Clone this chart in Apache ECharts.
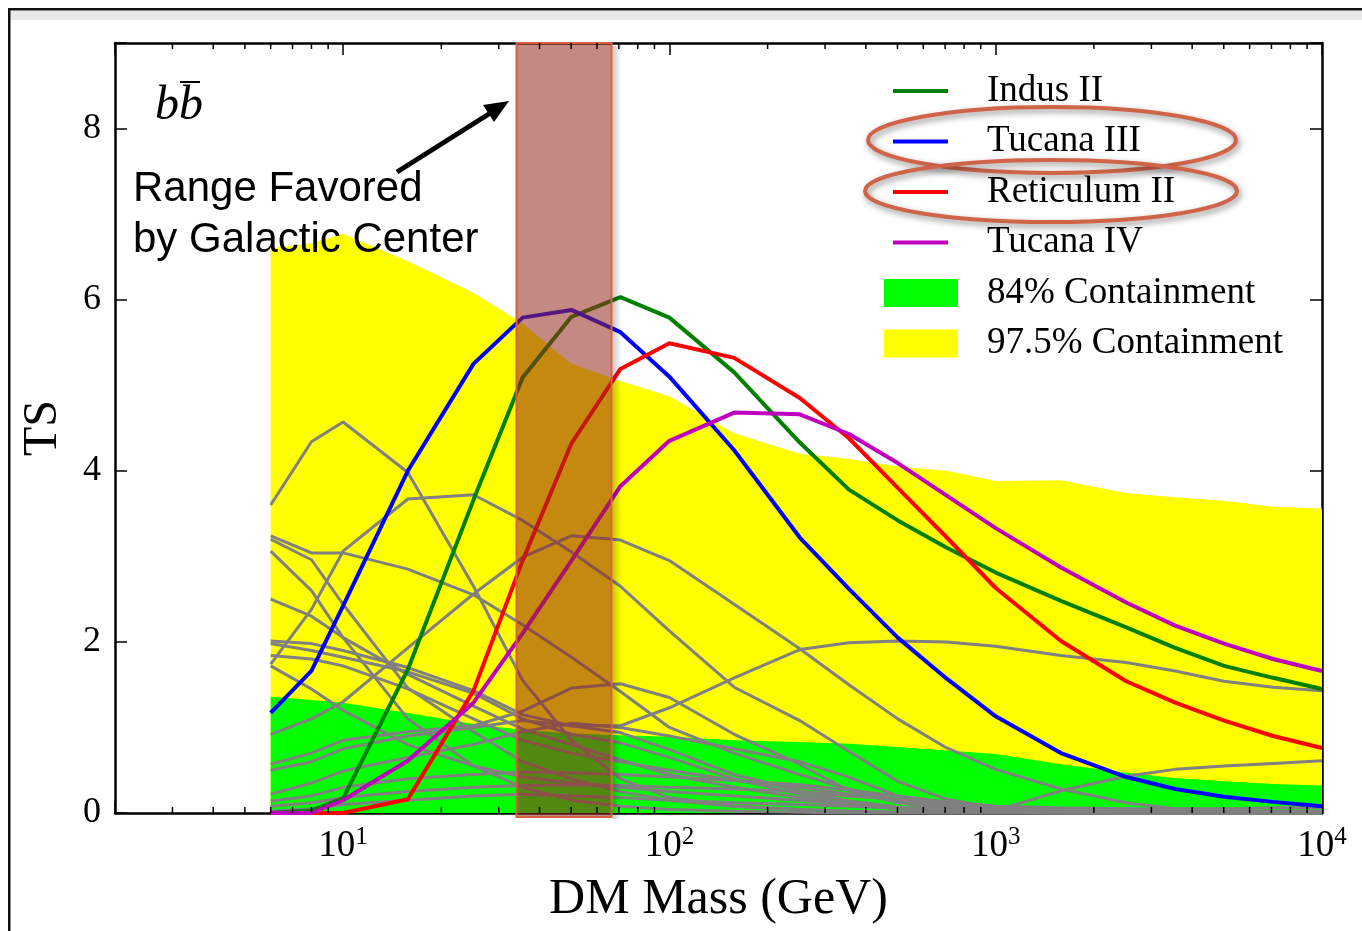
<!DOCTYPE html>
<html><head><meta charset="utf-8">
<script src="https://cdn.jsdelivr.net/npm/echarts@6/dist/echarts.min.js"></script>
<style>html,body{margin:0;padding:0;background:#fff}#c{width:1362px;height:931px}</style>
</head><body><div id="c"></div>
<script>
// DM masses (GeV)
const masses = [6, 8, 10, 15.8, 25.1, 35.5, 50.1, 70.8, 100, 158, 251, 355, 501, 708, 1000, 1585, 2512, 3548, 5012, 7079, 10000];
// containment bands (upper edges; lower edge 0)
const band975 = [6.60, 6.66, 6.77, 6.45, 6.08, 5.72, 5.25, 5.05, 4.87, 4.44, 4.20, 4.14, 4.05, 4.00, 3.88, 3.89, 3.74, 3.69, 3.65, 3.58, 3.56];
const band84  = [1.36, 1.32, 1.29, 1.17, 1.04, 0.97, 0.93, 0.91, 0.89, 0.85, 0.83, 0.81, 0.77, 0.73, 0.69, 0.57, 0.47, 0.41, 0.37, 0.34, 0.32];
// dwarf TS curves
const indusII     = [0.00, 0.03, 0.17, 1.68, 3.66, 5.09, 5.80, 6.03, 5.79, 5.15, 4.33, 3.78, 3.42, 3.10, 2.81, 2.48, 2.17, 1.93, 1.72, 1.58, 1.45];
const tucanaIII   = [1.17, 1.66, 2.42, 4.00, 5.25, 5.79, 5.88, 5.62, 5.10, 4.24, 3.22, 2.62, 2.05, 1.57, 1.13, 0.70, 0.42, 0.28, 0.19, 0.13, 0.08];
const reticulumII = [0.00, 0.00, 0.00, 0.16, 1.43, 2.95, 4.32, 5.19, 5.49, 5.32, 4.85, 4.38, 3.80, 3.22, 2.63, 2.01, 1.54, 1.29, 1.08, 0.90, 0.76];
const tucanaIV    = [0.00, 0.00, 0.15, 0.61, 1.29, 2.10, 2.95, 3.82, 4.35, 4.68, 4.66, 4.43, 4.09, 3.71, 3.33, 2.87, 2.46, 2.19, 1.98, 1.80, 1.66];
// other dwarfs (grey)
const grey01 = [3.60, 4.34, 4.57, 3.98, 2.65, 1.55, 0.85, 0.40, 0.18, 0.08, 0.04, 0.02, 0.01, 0, 0, 0, 0, 0, 0, 0, 0];
const grey02 = [1.74, 2.38, 3.06, 3.67, 3.72, 3.42, 3.05, 2.65, 2.13, 1.47, 1.08, 0.72, 0.37, 0.16, 0.06, 0.02, 0, 0, 0, 0, 0];
const grey03 = [0.92, 1.10, 1.30, 1.93, 2.56, 2.99, 3.24, 3.19, 2.95, 2.44, 1.92, 1.50, 1.10, 0.76, 0.51, 0.28, 0.12, 0.05, 0.02, 0.01, 0];
const grey04 = [0.50, 0.60, 0.75, 0.90, 1.00, 1.08, 1.02, 1.02, 1.23, 1.58, 1.91, 1.99, 2.01, 2.00, 1.95, 1.84, 1.76, 1.66, 1.54, 1.47, 1.43];
const grey05 = [0.22, 0.35, 0.49, 0.65, 0.80, 0.95, 1.05, 1.00, 0.90, 0.75, 0.60, 0.42, 0.20, 0.08, 0.03, 0.26, 0.43, 0.51, 0.55, 0.58, 0.61];
const grey06 = [3.24, 3.04, 3.04, 2.85, 2.55, 2.20, 1.82, 1.42, 1.00, 0.70, 0.45, 0.28, 0.15, 0.08, 0.03, 0.01, 0, 0, 0, 0, 0];
const grey07 = [3.20, 2.96, 2.44, 1.46, 0.95, 0.60, 0.40, 0.25, 0.15, 0.08, 0.04, 0.02, 0.01, 0, 0, 0, 0, 0, 0, 0, 0];
const grey08 = [3.06, 2.60, 2.05, 1.10, 0.55, 0.30, 0.15, 0.08, 0.04, 0.02, 0.01, 0, 0, 0, 0, 0, 0, 0, 0, 0, 0];
const grey09 = [2.50, 2.30, 2.05, 1.62, 1.25, 0.98, 0.80, 0.62, 0.45, 0.30, 0.18, 0.10, 0.05, 0.02, 0.01, 0, 0, 0, 0, 0, 0];
const grey10 = [2.01, 1.98, 1.90, 1.70, 1.43, 1.15, 1.02, 0.94, 0.74, 0.45, 0.26, 0.14, 0.07, 0.03, 0.01, 0, 0, 0, 0, 0, 0];
const grey11 = [1.98, 1.90, 1.82, 1.65, 1.40, 1.10, 0.92, 0.82, 0.65, 0.40, 0.22, 0.11, 0.05, 0.02, 0.01, 0, 0, 0, 0, 0, 0];
const grey12 = [1.84, 1.80, 1.72, 1.45, 1.10, 0.85, 0.70, 0.60, 0.50, 0.38, 0.30, 0.22, 0.15, 0.10, 0.06, 0.03, 0.01, 0, 0, 0, 0];
const grey13 = [0.57, 0.70, 0.85, 0.95, 1.02, 1.19, 1.46, 1.51, 1.35, 0.92, 0.57, 0.26, 0.12, 0.05, 0.02, 0, 0, 0, 0, 0, 0];
const grey14 = [1.72, 1.45, 1.20, 0.80, 0.55, 0.42, 0.35, 0.30, 0.25, 0.20, 0.15, 0.10, 0.06, 0.04, 0.02, 0.01, 0, 0, 0, 0, 0];
const grey15 = [0.14, 0.20, 0.30, 0.40, 0.45, 0.48, 0.47, 0.45, 0.42, 0.38, 0.33, 0.27, 0.20, 0.13, 0.08, 0.04, 0.02, 0.01, 0, 0, 0];
const grey16 = [0.08, 0.12, 0.18, 0.25, 0.30, 0.32, 0.33, 0.32, 0.30, 0.28, 0.25, 0.20, 0.16, 0.12, 0.08, 0.06, 0.05, 0.04, 0.03, 0.02, 0.02];
const grey17 = [0.02, 0.05, 0.10, 0.15, 0.20, 0.22, 0.20, 0.18, 0.15, 0.12, 0.10, 0.08, 0.06, 0.05, 0.04, 0.04, 0.04, 0.05, 0.05, 0.06, 0.06];
const greyLines = [grey01, grey02, grey03, grey04, grey05, grey06, grey07, grey08, grey09, grey10, grey11, grey12, grey13, grey14, grey15, grey16, grey17];
// mass range favored by the Galactic Center excess (GeV)
const gcRange = [34, 66.5];
// tick labels
const yTickLabels = [0, 2, 4, 6, 8];
const xTickPowers = [1, 2, 3, 4];

const SERIF = '"Liberation Serif", "DejaVu Serif", serif';
const SANS = '"Liberation Sans", Arial, sans-serif';
const pairs = arr => masses.map((m, i) => [m, arr[i]]);

const minorTickVals = [];
for (let d = 0; d < 4; d++) for (let k = 2; k <= 9; k++) {
  const v = k * Math.pow(10, d);
  if (v > 2 && v < 10000) minorTickVals.push(v);
}

const chart = echarts.init(document.getElementById('c'), null, {renderer: 'canvas'});

const series = [];
series.push({type: 'line', name: '97.5% Containment', data: pairs(band975), symbol: 'none', silent: true,
  lineStyle: {width: 0, color: '#FFFF00'}, itemStyle: {color: '#FFFF00'},
  areaStyle: {color: '#FFFF00', opacity: 1, origin: 'start'}, z: 1});
series.push({type: 'line', name: '84% Containment', data: pairs(band84), symbol: 'none', silent: true,
  lineStyle: {width: 0, color: '#00FF00'}, itemStyle: {color: '#00FF00'},
  areaStyle: {color: '#00FF00', opacity: 1, origin: 'start'}, z: 1});
greyLines.forEach((g, i) => series.push({type: 'line', name: 'other' + i, data: pairs(g), symbol: 'none', silent: true,
  lineStyle: {width: 3, color: '#808080'}, itemStyle: {color: '#808080'}, z: 2}));
[['Indus II', indusII, '#007F00'], ['Tucana III', tucanaIII, '#0000FF'],
 ['Reticulum II', reticulumII, '#FF0000'], ['Tucana IV', tucanaIV, '#BF00BF']].forEach(([n, d, c]) =>
  series.push({type: 'line', name: n, data: pairs(d), symbol: 'none', silent: true,
    lineStyle: {width: 4, color: c}, itemStyle: {color: c}, z: 3}));
// Galactic-center favored band
series.push({type: 'custom', name: 'gc', silent: true, clip: false, z: 6, data: [[gcRange[0], gcRange[1]]],
  renderItem(params, api) {
    const a = api.coord([api.value(0), 9]);
    const b = api.coord([api.value(1), 0]);
    return {type: 'group', children: [
      {type: 'rect', shape: {x: b[0] + 1, y: a[1] + 3, width: 9, height: b[1] - a[1] + 3},
        style: {fill: new echarts.graphic.LinearGradient(0, 0, 1, 0, [
          {offset: 0, color: 'rgba(0,0,0,0.22)'}, {offset: 1, color: 'rgba(0,0,0,0)'}])}},
      {type: 'rect', shape: {x: a[0], y: a[1], width: b[0] - a[0], height: b[1] - a[1] + 4},
        style: {fill: 'rgba(150,40,29,0.55)', stroke: '#D9603F', lineWidth: 2}}
    ]};
  }});
// minor log ticks (bottom & top)
series.push({type: 'custom', name: 'minor', silent: true, clip: false, z: 10, data: minorTickVals.map(v => [v, 0]),
  renderItem(params, api) {
    const v = api.value(0);
    const b = api.coord([v, 0]);
    const t = api.coord([v, 9]);
    return {type: 'group', children: [
      {type: 'line', shape: {x1: b[0], y1: b[1], x2: b[0], y2: b[1] - 6}, style: {stroke: '#000', lineWidth: 1.5}},
      {type: 'line', shape: {x1: t[0], y1: t[1], x2: t[0], y2: t[1] + 6}, style: {stroke: '#000', lineWidth: 1.5}}
    ]};
  }});

const xLabelFmt = v => {
  const p = Math.round(Math.log10(v));
  if (Math.abs(Math.log10(v) - p) > 1e-6 || xTickPowers.indexOf(p) < 0) return '';
  return '{b|10}{s|' + p + '}';
};
const axisLineStyle = {color: '#000', width: 2.5};

const option = {
  animation: false,
  backgroundColor: '#fff',
  grid: {left: 115, right: 40, top: 43, bottom: 118, containLabel: false, outerBoundsMode: 'none'},
  xAxis: [
    {type: 'log', logBase: 10, min: 2, max: 10000, position: 'bottom',
      name: 'DM Mass (GeV)', nameLocation: 'middle', nameGap: 62,
      nameTextStyle: {fontFamily: SERIF, fontSize: 50, color: '#000'},
      axisLine: {show: true, onZero: false, lineStyle: axisLineStyle},
      axisTick: {show: true, inside: true, length: 12, lineStyle: {color: '#000', width: 1.5}},
      minorTick: {show: false}, splitLine: {show: false},
      axisLabel: {show: true, margin: 12, formatter: xLabelFmt, color: '#000',
        rich: {b: {fontFamily: SERIF, fontSize: 37, color: '#000'},
               s: {fontFamily: SERIF, fontSize: 25, color: '#000', padding: [0, 0, 18, 0]}}}},
    {type: 'log', logBase: 10, min: 2, max: 10000, position: 'top',
      axisLine: {show: true, onZero: false, lineStyle: axisLineStyle},
      axisTick: {show: true, inside: true, length: 12, lineStyle: {color: '#000', width: 1.5}},
      axisLabel: {show: false}, splitLine: {show: false}}
  ],
  yAxis: [
    {type: 'value', min: 0, max: 9, interval: 2, position: 'left',
      name: 'TS', nameLocation: 'middle', nameGap: 48, nameRotate: 90,
      nameTextStyle: {fontFamily: SERIF, fontSize: 48, color: '#000'},
      axisLine: {show: true, onZero: false, lineStyle: axisLineStyle},
      axisTick: {show: true, inside: true, length: 12, lineStyle: {color: '#000', width: 1.5}},
      splitLine: {show: false},
      axisLabel: {show: true, margin: 14, color: '#000', fontFamily: SERIF, fontSize: 36,
        formatter: v => (yTickLabels.indexOf(v) >= 0 ? String(v) : '')}},
    {type: 'value', min: 0, max: 9, interval: 2, position: 'right',
      axisLine: {show: true, onZero: false, lineStyle: axisLineStyle},
      axisTick: {show: true, inside: true, length: 12, lineStyle: {color: '#000', width: 1.5}},
      splitLine: {show: false}, axisLabel: {show: false}}
  ],
  legend: [
    {orient: 'vertical', left: 893, top: 71, padding: 0, itemWidth: 55, itemHeight: 4, itemGap: 10.5,
      selectedMode: false, icon: 'rect',
      textStyle: {fontFamily: SERIF, fontSize: 37, color: '#000', lineHeight: 40, padding: [0, 0, 0, 34]},
      data: [
        {name: 'Indus II', itemStyle: {color: '#007F00'}},
        {name: 'Tucana III', itemStyle: {color: '#0000FF'}},
        {name: 'Reticulum II', itemStyle: {color: '#FF0000'}},
        {name: 'Tucana IV', itemStyle: {color: '#BF00BF'}}]},
    {orient: 'vertical', left: 884, top: 273, padding: 0, itemWidth: 74, itemHeight: 28, itemGap: 10.5,
      selectedMode: false, icon: 'rect',
      textStyle: {fontFamily: SERIF, fontSize: 37, color: '#000', lineHeight: 40, padding: [0, 0, 0, 24]},
      data: [
        {name: '84% Containment', itemStyle: {color: '#00FF00'}},
        {name: '97.5% Containment', itemStyle: {color: '#FFFF00'}}]}
  ],
  graphic: [
    // screenshot frame
    {type: 'rect', shape: {x: 8, y: 8, width: 1354, height: 2.5}, style: {fill: '#111'}, silent: true},
    {type: 'rect', shape: {x: 10, y: 11, width: 1352, height: 9}, style: {fill: '#E8E8E8'}, silent: true},
    {type: 'rect', shape: {x: 8, y: 8, width: 2.5, height: 923}, style: {fill: '#111'}, silent: true},
    // b bbar label
    {type: 'text', x: 155, y: 106, z: 20, silent: true,
      style: {text: 'bb', font: 'italic 48px ' + SERIF, fill: '#000', textVerticalAlign: 'middle'}},
    {type: 'line', z: 20, silent: true, shape: {x1: 180, y1: 82, x2: 200, y2: 82}, style: {stroke: '#000', lineWidth: 2}},
    // annotation text
    {type: 'text', x: 133, y: 189, z: 20, silent: true,
      style: {text: 'Range Favored', font: '42px ' + SANS, fill: '#000', textVerticalAlign: 'middle'}},
    {type: 'text', x: 133, y: 240, z: 20, silent: true,
      style: {text: 'by Galactic Center', font: '42px ' + SANS, fill: '#000', textVerticalAlign: 'middle'}},
    // arrow
    {type: 'line', z: 20, silent: true, shape: {x1: 397, y1: 172, x2: 492, y2: 112}, style: {stroke: '#000', lineWidth: 5}},
    {type: 'polygon', z: 20, silent: true, shape: {points: [[509, 101], [494, 122], [483, 105]]}, style: {fill: '#000'}},
    // highlight ellipses
    {type: 'ellipse', z: 21, silent: true, shape: {cx: 1052, cy: 140, rx: 184, ry: 33},
      style: {fill: null, stroke: '#CF6448', lineWidth: 4, shadowBlur: 6, shadowColor: 'rgba(0,0,0,0.45)', shadowOffsetX: 2, shadowOffsetY: 3}},
    {type: 'ellipse', z: 21, silent: true, shape: {cx: 1051, cy: 191, rx: 186, ry: 31},
      style: {fill: null, stroke: '#CF6448', lineWidth: 4, shadowBlur: 6, shadowColor: 'rgba(0,0,0,0.45)', shadowOffsetX: 2, shadowOffsetY: 3}}
  ],
  series: series
};
chart.setOption(option);
</script></body></html>
